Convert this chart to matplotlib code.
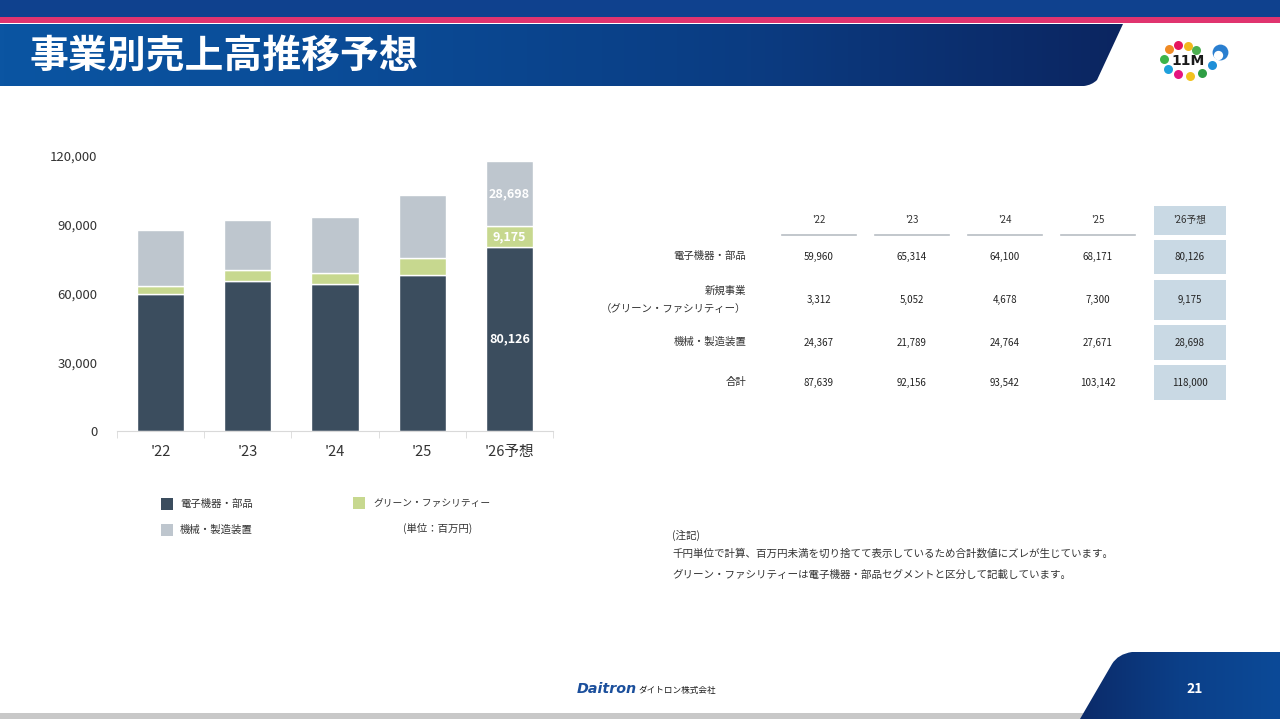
import matplotlib
matplotlib.use("Agg")
import matplotlib.pyplot as plt
import numpy as np
from matplotlib.patches import Rectangle, PathPatch
from matplotlib.path import Path

plt.rcParams["font.family"] = ["Noto Sans CJK JP", "DejaVu Sans"]

# ---- data (百万円) ----
years = ["'22", "'23", "'24", "'25", "'26予想"]
electronics = [59960, 65314, 64100, 68171, 80126]
green_facility = [3312, 5052, 4678, 7300, 9175]
machinery = [24367, 21789, 24764, 27671, 28698]
totals = [87639, 92156, 93542, 103142, 118000]
y_ticks = [0, 30000, 60000, 90000, 120000]

row_labels = ["電子機器・部品", "新規事業\n（グリーン・ファシリティー）", "機械・製造装置", "合計"]
table_rows = [electronics, green_facility, machinery, totals]

C_DARK = "#3b4d5e"
C_GREEN = "#c7d88f"
C_GRAY = "#bec6ce"
C_CELL = "#c9d9e4"

W, H = 1280, 719
fig = plt.figure(figsize=(W / 100, H / 100), dpi=100)

# background overlay in pixel coordinates
bg = fig.add_axes([0, 0, 1, 1])
bg.set_xlim(0, W)
bg.set_ylim(H, 0)
bg.axis("off")

# header bands
bg.add_patch(Rectangle((0, 0), W, 17, color="#0f418e", lw=0))
bg.add_patch(Rectangle((0, 17), W, 6, color="#e0346f", lw=0))
hdr_verts = [(0, 24), (1123, 24), (1097, 80), (1092, 85), (1084, 86), (0, 86), (0, 24)]
hdr_codes = [Path.MOVETO, Path.LINETO, Path.LINETO, Path.CURVE3, Path.CURVE3, Path.LINETO, Path.CLOSEPOLY]
hdr_patch = PathPatch(Path(hdr_verts, hdr_codes), facecolor="none", edgecolor="none")
bg.add_patch(hdr_patch)
grad = np.linspace(0, 1, 256).reshape(1, -1)
cmap_hdr = matplotlib.colors.LinearSegmentedColormap.from_list(
    "hdr", ["#0b55a2", "#0a4b96", "#0b3c82", "#0c2560"])
im = bg.imshow(grad, extent=(0, 1125, 86, 24), cmap=cmap_hdr, aspect="auto", zorder=1)
im.set_clip_path(hdr_patch)
bg.text(30, 57, "事業別売上高推移予想", color="white", fontsize=28, fontweight="bold",
        va="center", ha="left", zorder=3)

# logo (approximate)
dots = [(1169, 49, "#f08a24"), (1178, 45, "#e5155f"), (1188, 46, "#f2b81d"),
        (1196, 50, "#4caf50"), (1164, 59, "#3cb44a"), (1168, 69, "#1ea0dc"),
        (1178, 74, "#e5157f"), (1190, 76, "#f2c21d"), (1202, 73, "#2e9e44"),
        (1212, 65, "#1e8fd8")]
for x, y, c in dots:
    bg.scatter([x], [y], s=42, color=c, lw=0, zorder=3)
bg.text(1188, 61, "11M", fontsize=10, fontweight="bold", color="#1a1a1a",
        ha="center", va="center", zorder=3, family=["DejaVu Sans"])
bg.scatter([1220], [52], s=130, color="#2a7fd0", lw=0, zorder=3)
bg.scatter([1218], [55], s=45, color="white", lw=0, zorder=4)

# footer
bg.add_patch(Rectangle((0, 713), 1090, 6, color="#c8c8c8", lw=0))
ftr_verts = [(1080, 719), (1112, 664), (1118, 654), (1132, 652), (1280, 652), (1280, 719), (1080, 719)]
ftr_codes = [Path.MOVETO, Path.LINETO, Path.CURVE3, Path.CURVE3, Path.LINETO, Path.LINETO, Path.CLOSEPOLY]
ftr_patch = PathPatch(Path(ftr_verts, ftr_codes), facecolor="none", edgecolor="none")
bg.add_patch(ftr_patch)
cmap_ftr = matplotlib.colors.LinearSegmentedColormap.from_list("ftr", ["#0c2a68", "#0b3f88", "#0c4a98"])
im2 = bg.imshow(grad, extent=(1078, 1280, 719, 652), cmap=cmap_ftr, aspect="auto", zorder=1)
im2.set_clip_path(ftr_patch)
bg.text(1195, 689, "21", color="white", fontsize=10, fontweight="bold", ha="center", va="center", zorder=3)
bg.text(577, 689, "Daitron", color="#1b4f9c", fontsize=10.3, fontweight="bold", style="italic",
        ha="left", va="center", family=["DejaVu Sans"])
bg.text(638, 690, "ダイトロン株式会社", color="#1a1a1a", fontsize=6.2, ha="left", va="center")

# ---- stacked bar chart ----
ax_l, ax_r, ax_t, ax_b = 117, 553, 156, 431
ax = fig.add_axes([ax_l / W, 1 - ax_b / H, (ax_r - ax_l) / W, (ax_b - ax_t) / H])
x = np.arange(len(years))
bw = 0.54
bottom2 = np.array(electronics)
bottom3 = bottom2 + np.array(green_facility)
ax.bar(x, electronics, bw, color=C_DARK, edgecolor="white", lw=1.0, zorder=2)
ax.bar(x, green_facility, bw, bottom=bottom2, color=C_GREEN, edgecolor="white", lw=1.0, zorder=2)
ax.bar(x, machinery, bw, bottom=bottom3, color=C_GRAY, edgecolor="white", lw=1.0, zorder=2)

i = len(years) - 1
for val, base in [(electronics[i], 0), (green_facility[i], bottom2[i]), (machinery[i], bottom3[i])]:
    ax.text(x[i], base + val / 2, f"{val:,}", color="white", fontsize=9, fontweight="bold",
            ha="center", va="center", zorder=3)

ax.set_xlim(-0.5, len(years) - 0.5)
ax.set_ylim(0, 120000)
ax.set_yticks(y_ticks)
ax.set_yticklabels([f"{v:,}" for v in y_ticks], fontsize=9.5, color="#333333")
ax.set_xticks(x)
ax.set_xticklabels(years, fontsize=10.5, color="#333333")
ax.tick_params(axis="y", length=0, pad=14)
ax.tick_params(axis="x", length=0, pad=10)
ax.set_xticks(np.arange(len(years) + 1) - 0.5, minor=True)
ax.tick_params(axis="x", which="minor", length=5, color="#d9d9d9", direction="out")
for side in ["top", "right", "left"]:
    ax.spines[side].set_visible(False)
ax.spines["bottom"].set_color("#d9d9d9")
ax.patch.set_alpha(0)

# legend
bg.add_patch(Rectangle((161, 498), 12, 12, color=C_DARK, lw=0))
bg.text(180, 504, "電子機器・部品", fontsize=7.5, va="center", color="#333333")
bg.add_patch(Rectangle((161, 524), 12, 12, color=C_GRAY, lw=0))
bg.text(180, 530, "機械・製造装置", fontsize=7.5, va="center", color="#333333")
bg.add_patch(Rectangle((353, 497), 12, 12, color=C_GREEN, lw=0))
bg.text(373, 503, "グリーン・ファシリティー", fontsize=7, va="center", color="#333333")
bg.text(403, 528, "(単位：百万円)", fontsize=7.5, va="center", color="#333333")

# ---- table ----
col_x = [819, 912, 1005, 1098, 1190]
row_y = [257, 300, 343, 383]
row_spans = [(240, 274), (280, 320), (325, 360), (365, 400)]
hdr_y = 220
bg.add_patch(Rectangle((1154, 206), 72, 29, color=C_CELL, lw=0))
for (y0, y1) in row_spans:
    bg.add_patch(Rectangle((1154, y0), 72, y1 - y0, color=C_CELL, lw=0))
for j, yr in enumerate(years):
    bg.text(col_x[j], hdr_y, yr, fontsize=7, ha="center", va="center", color="#333333")
    if j < len(years) - 1:
        bg.plot([col_x[j] - 37, col_x[j] + 37], [235, 235], color="#b8bec4", lw=1.2)
for r, (lab, vals) in enumerate(zip(row_labels, table_rows)):
    bg.text(746, row_y[r] - (1 if r != 1 else 0), lab, fontsize=7.5, ha="right", va="center",
            color="#333333", linespacing=2.1)
    for j, v in enumerate(vals):
        bg.text(col_x[j], row_y[r], f"{v:,}", fontsize=7, ha="center", va="center", color="#222222")

# notes
bg.text(672, 535, "(注記)", fontsize=7.6, va="center", color="#333333")
bg.text(672, 554, "千円単位で計算、百万円未満を切り捨てて表示しているため合計数値にズレが生じています。",
        fontsize=7.6, va="center", color="#333333")
bg.text(672, 575, "グリーン・ファシリティーは電子機器・部品セグメントと区分して記載しています。",
        fontsize=7.6, va="center", color="#333333")

fig.savefig("out.png", dpi=100)
